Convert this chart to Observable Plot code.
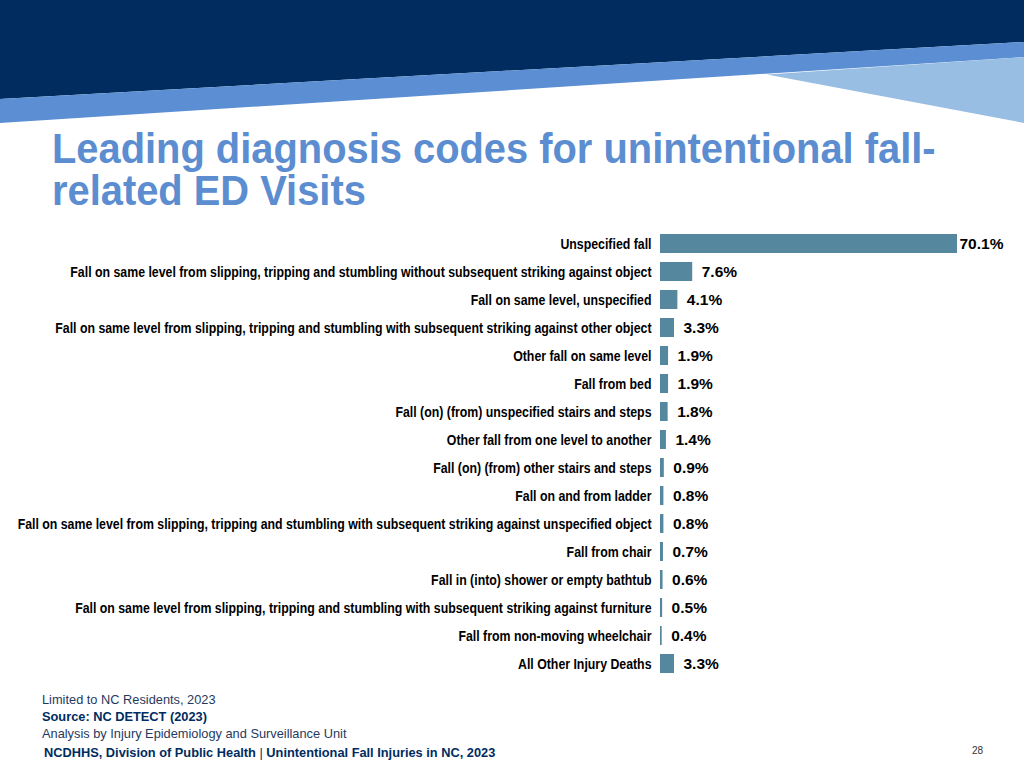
<!DOCTYPE html>
<html>
<head>
<meta charset="utf-8">
<script src="https://cdn.jsdelivr.net/npm/d3@7"></script>
<script src="https://cdn.jsdelivr.net/npm/@observablehq/plot@0.6"></script>
<style>
  html, body { margin: 0; padding: 0; background: #fff; }
  #page { position: relative; width: 1024px; height: 768px; overflow: hidden; font-family: "Liberation Sans", Arial, sans-serif; }
  #bg { position: absolute; left: 0; top: 0; }
  .title { position: absolute; left: 52px; margin: 0; font-family: "Liberation Sans", Arial, sans-serif; font-weight: bold; font-size: 42px; line-height: 42px; height: 42px; color: #5B8DD0; transform: scaleX(0.949); transform-origin: 0 0; white-space: nowrap; }
  #chart { position: absolute; left: 0; top: 220px; }
  .foot { position: absolute; font-family: "Liberation Sans", Arial, sans-serif; font-size: 12.8px; color: #1F3A60; white-space: nowrap; }
</style>
</head>
<body>
<div id="page">
  <svg id="bg" width="1024" height="768">
    <polygon points="0,0 1024,0 1024,42 0,99" fill="#002C5F"/>
    <polygon points="0,99 1024,42 1024,57 0,123" fill="#5B8ED2"/>
    <polygon points="767,74.5 1024,57 1024,123" fill="#98BEE3"/>
  </svg>
  <div class="title" style="top:128px;">Leading diagnosis codes for unintentional fall-</div>
  <div class="title" style="top:170px;">related ED Visits</div>
  <div id="chart"></div>
  <div class="foot" style="left:42px; top:692px;">Limited to NC Residents, 2023</div>
  <div class="foot" style="left:42px; top:709px; font-weight:bold; color:#002C5F;">Source: NC DETECT (2023)</div>
  <div class="foot" style="left:42px; top:726px;">Analysis by Injury Epidemiology and Surveillance Unit</div>
  <div class="foot" style="left:44px; top:745px; font-weight:bold; color:#002C5F;">NCDHHS, Division of Public Health <span style="font-weight:normal">|</span> Unintentional Fall Injuries in NC, 2023</div>
  <div class="foot" style="left:972px; top:745px; font-size:10px; color:#333;">28</div>
</div>
<script>
const categories = [
  "Unspecified fall",
  "Fall on same level from slipping, tripping and stumbling without subsequent striking against object",
  "Fall on same level, unspecified",
  "Fall on same level from slipping, tripping and stumbling with subsequent striking against other object",
  "Other fall on same level",
  "Fall from bed",
  "Fall (on) (from) unspecified stairs and steps",
  "Other fall from one level to another",
  "Fall (on) (from) other stairs and steps",
  "Fall on and from ladder",
  "Fall on same level from slipping, tripping and stumbling with subsequent striking against unspecified object",
  "Fall from chair",
  "Fall in (into) shower or empty bathtub",
  "Fall on same level from slipping, tripping and stumbling with subsequent striking against furniture",
  "Fall from non-moving wheelchair",
  "All Other Injury Deaths"
];
const percents = [70.1, 7.6, 4.1, 3.3, 1.9, 1.9, 1.8, 1.4, 0.9, 0.8, 0.8, 0.7, 0.6, 0.5, 0.4, 3.3];

const data = categories.map((c, i) => ({category: c, value: percents[i]}));
const maxVal = d3.max(percents);

const chart = Plot.plot({
  width: 1024,
  height: 470,
  marginLeft: 660,
  marginRight: 67,
  marginTop: 4.5,
  marginBottom: 7.5,
  style: {fontFamily: "'Liberation Sans', Arial, sans-serif", background: "transparent"},
  x: {domain: [0, maxVal], axis: null},
  y: {domain: categories, padding: 0.32, label: null},
  marks: [
    Plot.barX(data, {x: "value", y: "category", fill: "#55879F"}),
    Plot.axisY({tickSize: 0, tickPadding: 9, fontSize: 15, fontWeight: "bold", fill: "#000", label: null}),
    Plot.text(data.filter(d => d.value < maxVal), {x: "value", y: "category", text: d => d.value.toFixed(1) + "%", textAnchor: "start", dx: 9, fontSize: 15.5, fontWeight: "bold", fill: "#000"}),
    Plot.text(data.filter(d => d.value === maxVal), {x: "value", y: "category", text: d => d.value.toFixed(1) + "%", textAnchor: "start", dx: 2, fontSize: 15.5, fontWeight: "bold", fill: "#000"})
  ]
});

// condense the category labels horizontally (the reference uses a narrow typeface)
const squeeze = 0.822;
d3.select(chart).selectAll('g[aria-label="y-axis tick label"] text').each(function() {
  const t = this.getAttribute("transform");
  if (t) {
    this.setAttribute("transform", t + ` scale(${squeeze},1)`);
  } else {
    const x = +this.getAttribute("x") || 0, y = +this.getAttribute("y") || 0;
    this.setAttribute("x", 0); this.setAttribute("y", 0);
    this.setAttribute("transform", `translate(${x},${y}) scale(${squeeze},1)`);
  }
});
document.getElementById("chart").appendChild(chart);
</script>
</body>
</html>
